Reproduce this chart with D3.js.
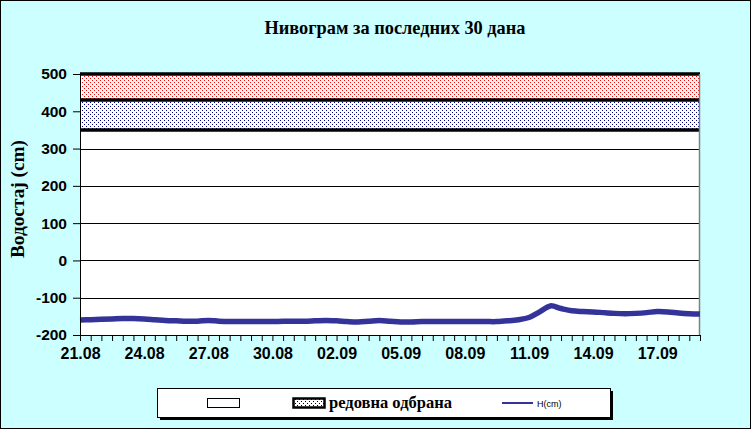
<!DOCTYPE html>
<html><head><meta charset="utf-8">
<script src="https://cdn.jsdelivr.net/npm/d3@7"></script>
<style>html,body{margin:0;padding:0;background:#fff}svg{display:block}</style>
</head><body>
<svg id="c" width="751" height="429"></svg>
<script>
const title = "Нивограм за последних 30 дана";
const yTitle = "Водостај (cm)";
const yTicks = [-200, -100, 0, 100, 200, 300, 400, 500];
const xTickLabels = ["21.08","24.08","27.08","30.08","02.09","05.09","08.09","11.09","14.09","17.09"];
const xLabelStep = 6; // half-day steps between labels
const zones = [
  {name: "", from: 430, to: 500, color: "#ff0000"},
  {name: "редовна одбрана", from: 350, to: 430, color: "#000080"}
];
const seriesName = "H(cm)";
// water level, two readings per day from 21.08 to 19.09
const levels = [-160,-159,-158,-157,-156,-156,-157,-159,-161,-162,
  -163,-163,-161,-163,-164,-164,-164,-164,-164,-163,
  -163,-163,-162,-161,-162,-164,-165,-163,-161,-163,
  -165,-165,-164,-164,-164,-164,-164,-164,-164,-164,
  -162,-159,-153,-138,-122,-129,-135,-137,-138,-140,
  -142,-143,-142,-140,-137,-138,-141,-143,-144];

const svg = d3.select("#c");
svg.append("rect").attr("x",0.5).attr("y",0.5).attr("width",750).attr("height",428)
  .attr("fill","#ccffff").attr("stroke","#000");

const L=80, R=700, T=74, B=335;
const x = d3.scaleLinear().domain([0, levels.length-1]).range([L,R]);
const y = d3.scaleLinear().domain([-200,500]).range([B,T]);

const defs = svg.append("defs");
zones.forEach((z,i)=>{
  const p = defs.append("pattern").attr("id","dots"+i).attr("patternUnits","userSpaceOnUse")
    .attr("width",4).attr("height",4);
  p.append("rect").attr("width",4).attr("height",4).attr("fill","#fff");
  p.append("rect").attr("x",0).attr("y",0).attr("width",1).attr("height",1).attr("fill",z.color);
  p.append("rect").attr("x",2).attr("y",2).attr("width",1).attr("height",1).attr("fill",z.color);
});
const lp = defs.append("pattern").attr("id","dotsL").attr("patternUnits","userSpaceOnUse")
    .attr("width",4).attr("height",4);
lp.append("rect").attr("width",4).attr("height",4).attr("fill","#fff");
lp.append("rect").attr("x",1).attr("y",1).attr("width",1).attr("height",1).attr("fill","#000");
lp.append("rect").attr("x",3).attr("y",3).attr("width",1).attr("height",1).attr("fill","#000");

// plot area
svg.append("rect").attr("x",L).attr("y",T).attr("width",R-L).attr("height",B-T).attr("fill","#fff");

// gridlines
svg.append("g").selectAll("line").data(yTicks.filter(v=>v>-200 && v<500)).join("line")
  .attr("x1",L).attr("x2",R).attr("y1",d=>Math.round(y(d))+0.5).attr("y2",d=>Math.round(y(d))+0.5)
  .attr("stroke","#000").attr("stroke-width",1);

// zones
svg.append("g").selectAll("rect").data(zones).join("rect")
  .attr("x",L).attr("width",R-L).attr("y",d=>y(d.to)).attr("height",d=>y(d.from)-y(d.to))
  .attr("fill",(d,i)=>`url(#dots${i})`);
const zoneLines = Array.from(new Set(zones.flatMap(z=>[z.from,z.to])));
svg.append("g").selectAll("line").data(zoneLines).join("line")
  .attr("x1",L).attr("x2",R).attr("y1",d=>y(d)).attr("y2",d=>y(d))
  .attr("stroke","#000").attr("stroke-width",3.5);

// right border
svg.append("line").attr("x1",R-0.5).attr("x2",R-0.5).attr("y1",T).attr("y2",B)
  .attr("stroke","#808080").attr("stroke-width",1.5);

// line
svg.append("path").datum(levels)
  .attr("d", d3.line().x((d,i)=>x(i)).y(d=>y(d)).curve(d3.curveCatmullRom.alpha(0.5)))
  .attr("fill","none").attr("stroke","#333399").attr("stroke-width",5.5).attr("stroke-linejoin","round");

// y axis
const ya = svg.append("g").attr("transform",`translate(${L},0)`)
  .call(d3.axisLeft(y).tickValues(yTicks).tickSize(7).tickPadding(6).tickFormat(d => String(d)));
ya.select(".domain").attr("stroke","#000").attr("d",`M0.5,${T}V${B}`);
ya.selectAll(".tick line").attr("stroke","#000");
ya.selectAll("text").attr("font-family","Liberation Sans, Arial, sans-serif").attr("font-weight","bold")
  .attr("font-size","15.5px").attr("fill","#000");

// x axis
const xa = svg.append("g").attr("transform",`translate(0,${B})`)
  .call(d3.axisBottom(x).tickValues(d3.range(levels.length)).tickSize(6).tickPadding(7)
    .tickFormat(i => (i % xLabelStep === 0) ? (xTickLabels[i/xLabelStep] || "") : ""));
xa.select(".domain").attr("stroke","#000").attr("d",`M${L},0.5H${R}`);
xa.selectAll(".tick line").attr("stroke","#000");
xa.selectAll("text").attr("font-family","Liberation Sans, Arial, sans-serif").attr("font-weight","bold")
  .attr("font-size","16px").attr("fill","#000");

// titles
svg.append("text").attr("x",395).attr("y",34).attr("text-anchor","middle")
  .attr("font-family","Liberation Serif, Times New Roman, serif").attr("font-weight","bold")
  .attr("font-size","19px").attr("textLength",261).attr("lengthAdjust","spacingAndGlyphs").text(title);
svg.append("text").attr("transform","translate(24,199) rotate(-90)").attr("text-anchor","middle")
  .attr("font-family","Liberation Serif, Times New Roman, serif").attr("font-weight","bold")
  .attr("font-size","19px").attr("textLength",118).attr("lengthAdjust","spacingAndGlyphs").text(yTitle);

// legend
const lg = svg.append("g");
lg.append("rect").attr("x",160).attr("y",391).attr("width",453).attr("height",29).attr("fill","#000");
lg.append("rect").attr("x",157.5).attr("y",388.5).attr("width",453).attr("height",29)
  .attr("fill","#fff").attr("stroke","#000");
lg.append("rect").attr("x",207.5).attr("y",398.5).attr("width",32).attr("height",9)
  .attr("fill","#fff").attr("stroke","#000");
lg.append("rect").attr("x",293.5).attr("y",398.5).attr("width",31).attr("height",9)
  .attr("fill","url(#dotsL)").attr("stroke","#000").attr("stroke-width",2.5);
lg.append("text").attr("x",329).attr("y",408).attr("font-family","Liberation Serif, Times New Roman, serif")
  .attr("font-weight","bold").attr("font-size","17px").attr("textLength",123).attr("lengthAdjust","spacingAndGlyphs")
  .text(zones[1].name);
lg.append("line").attr("x1",502).attr("x2",533).attr("y1",403).attr("y2",403)
  .attr("stroke","#333399").attr("stroke-width",2);
lg.append("text").attr("x",537).attr("y",406.5).attr("font-family","Liberation Sans, Arial, sans-serif")
  .attr("font-size","9px").text(seriesName);
</script>
</body></html>
